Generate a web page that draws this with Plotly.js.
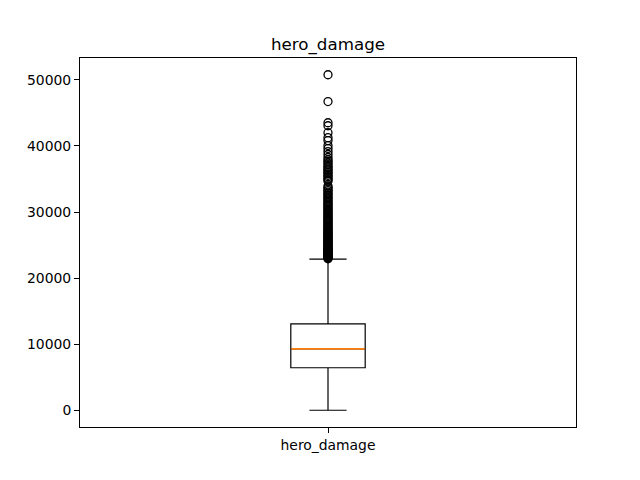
<!DOCTYPE html>
<html>
<head>
<meta charset="utf-8">
<script src="https://cdn.plot.ly/plotly-3.0.1.min.js"></script>
<style>html,body{margin:0;padding:0;background:#fff;}#chart{width:640px;height:480px;}</style>
</head>
<body>
<div id="chart"></div>
<script>
// Summary statistics
const categories = ["hero_damage"];
const q1 = [6480];
const median = [9340];
const q3 = [13100];
const lowerWhisker = [60];
const upperWhisker = [22890];
// Outliers above the upper whisker
const outliers = [
  22950, 23020, 23100, 23180, 23260, 23340, 23420, 23500, 23590, 23680,
  23770, 23860, 23950, 24040, 24140, 24240, 24340, 24440, 24540, 24650,
  24760, 24870, 24980, 25090, 25200, 25320, 25440, 25560, 25680, 25800,
  25930, 26060, 26190, 26320, 26450, 26590, 26730, 26870, 27010, 27150,
  27300, 27450, 27600, 27750, 27900, 28060, 28220, 28380, 28540, 28700,
  28870, 29040, 29210, 29380, 29550, 29730, 29910, 30090, 30270, 30450,
  30640, 30830, 31020, 31210, 31400, 31600, 31800, 32000, 32200, 32400,
  32610, 32820, 33030, 33250, 33470, 33700, 33920, 34700, 34900, 35120,
  35340, 35560, 35780, 36000, 36220, 36450, 36680, 36900, 37150, 37400,
  37650, 37900, 38250, 38700, 39150, 39600, 40050, 40800, 41250, 42000,
  43050, 43500, 46700, 50750
];

const boxTrace = {
  type: "box",
  x: [1],
  q1: q1, median: median, q3: q3,
  lowerfence: lowerWhisker, upperfence: upperWhisker,
  width: 0.15,
  whiskerwidth: 0.5,
  line: {color: "#000000", width: 1.2},
  fillcolor: "rgba(255,255,255,0)",
  boxpoints: false,
  hoverinfo: "skip",
  showlegend: false
};

const medianTrace = {
  type: "scatter",
  mode: "lines",
  x: [1 - 0.074, 1 + 0.074],
  y: [median[0], median[0]],
  line: {color: "#ff7f0e", width: 1.8},
  hoverinfo: "skip",
  showlegend: false
};

const outlierTrace = {
  type: "scatter",
  mode: "markers",
  x: outliers.map(() => 1),
  y: outliers,
  marker: {symbol: "circle-open", size: 8, color: "#000000", line: {width: 1.3, color: "#000000"}},
  hoverinfo: "skip",
  showlegend: false
};

const allVals = outliers.concat(lowerWhisker);
const vmin = Math.min(...allVals), vmax = Math.max(...allVals);
const pad = (vmax - vmin) * 0.05;

const layout = {
  width: 640, height: 480,
  margin: {l: 80, r: 64, t: 58, b: 53, pad: 0},
  paper_bgcolor: "#ffffff",
  plot_bgcolor: "#ffffff",
  font: {family: "DejaVu Sans", size: 13.9, color: "#000000"},
  title: {
    text: "hero_damage",
    font: {family: "DejaVu Sans", size: 16.7, color: "#000000"},
    x: 0.5, xref: "paper", xanchor: "center",
    y: 1, yref: "paper", yanchor: "bottom",
    pad: {b: 8}
  },
  xaxis: {
    range: [0.5, 1.5],
    tickmode: "array", tickvals: [1], ticktext: categories,
    ticks: "outside", ticklen: 5, tickwidth: 1, tickcolor: "#000",
    showline: true, linecolor: "#000", linewidth: 1, mirror: true,
    showgrid: false, zeroline: false,
    tickfont: {family: "DejaVu Sans", size: 13.9, color: "#000"}
  },
  yaxis: {
    range: [vmin - pad, vmax + pad],
    tickmode: "linear", tick0: 0, dtick: 10000,
    ticks: "outside", ticklen: 5, tickwidth: 1, tickcolor: "#000",
    showline: true, linecolor: "#000", linewidth: 1, mirror: true,
    showgrid: false, zeroline: false,
    tickformat: "d",
    tickfont: {family: "DejaVu Sans", size: 13.9, color: "#000"}
  },
  showlegend: false
};

Plotly.newPlot("chart", [boxTrace, medianTrace, outlierTrace], layout, {staticPlot: true, displayModeBar: false});
</script>
</body>
</html>
